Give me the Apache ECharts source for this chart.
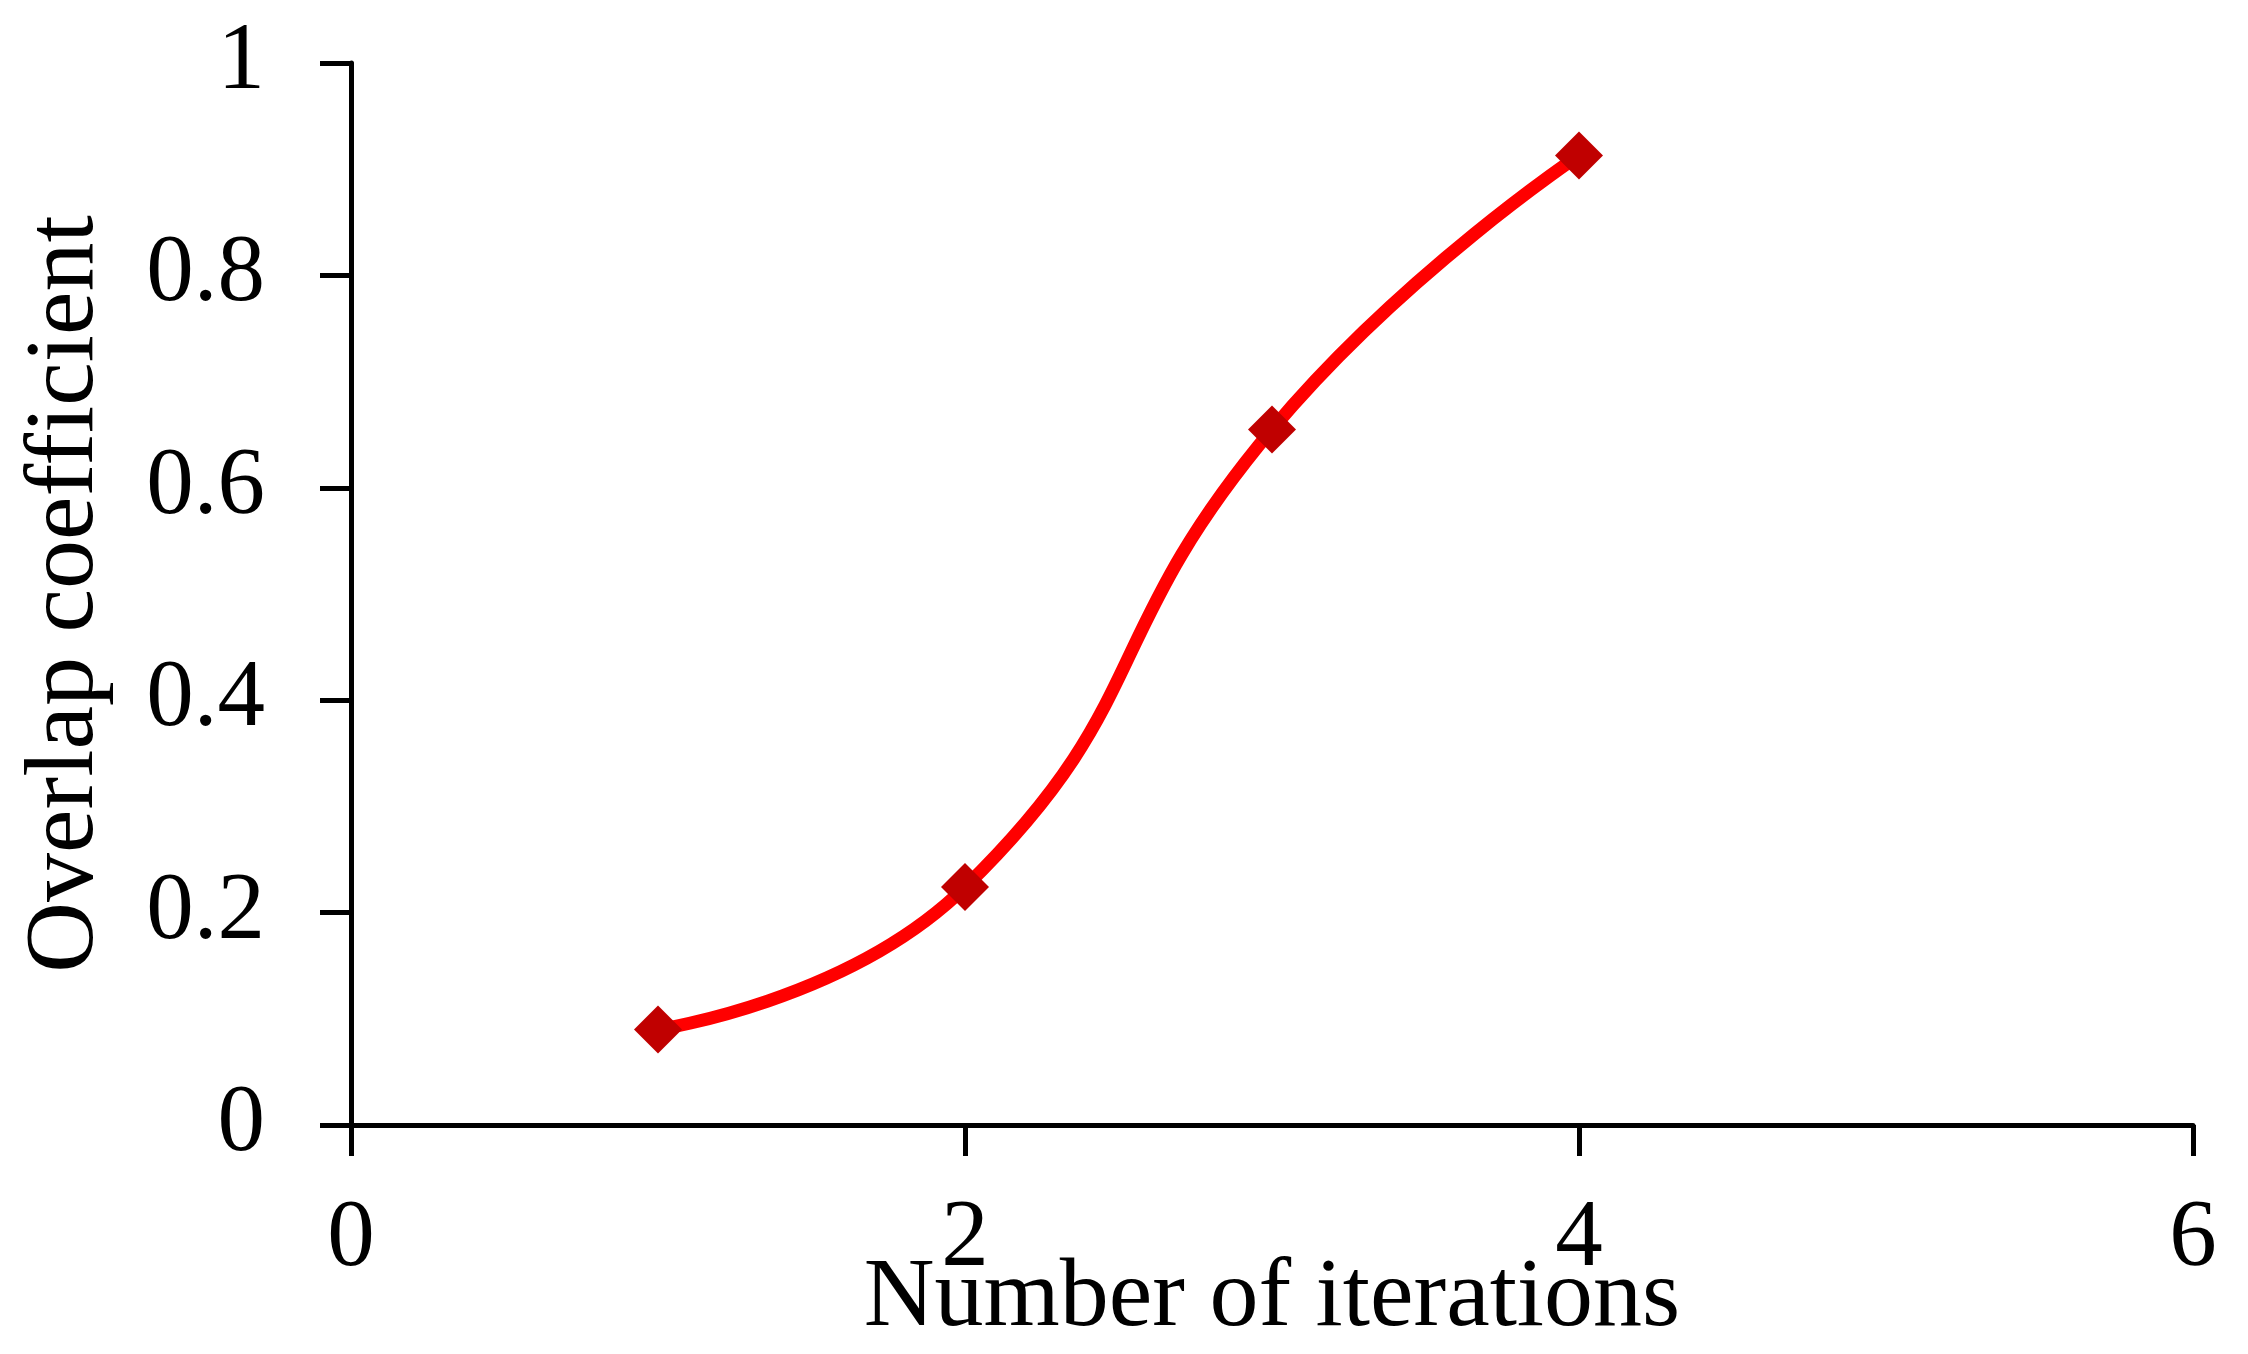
<!DOCTYPE html>
<html>
<head>
<meta charset="utf-8">
<script src="https://cdn.jsdelivr.net/npm/echarts@6/dist/echarts.min.js"></script>
<style>
html, body { margin: 0; padding: 0; background: #fff; }
#main { width: 2248px; height: 1354px; }
</style>
</head>
<body>
<div id="main"></div>
<script>
// 数据
var iterations = [1, 2, 3, 4];
var overlap = [0.09, 0.224, 0.655, 0.913];

var font = '"Liberation Serif", "Times New Roman", serif';

var myChart = echarts.init(document.getElementById('main'));
var option = {
	animation: false,
	grid: { left: 351, right: 55, top: 63, bottom: 229, outerBoundsMode: 'none' },
	xAxis: {
		type: 'value',
		min: 0, max: 6, interval: 2,
		name: 'Number of iterations',
		nameLocation: 'middle',
		nameGap: 125,
		nameMoveOverlap: false,
		nameTextStyle: { color: '#000', fontFamily: font, fontSize: 98 },
		axisLine: { show: true, lineStyle: { color: '#000', width: 5 } },
		axisTick: { show: true, inside: false, length: 31, lineStyle: { color: '#000', width: 5 } },
		axisLabel: { color: '#000', fontFamily: font, fontSize: 95, margin: 68 },
		splitLine: { show: false }
	},
	yAxis: {
		type: 'value',
		min: 0, max: 1, interval: 0.2,
		name: 'Overlap coefficient',
		nameLocation: 'middle',
		nameGap: 236,
		nameMoveOverlap: false,
		nameTextStyle: { color: '#000', fontFamily: font, fontSize: 98 },
		axisLine: { show: true, lineStyle: { color: '#000', width: 5 } },
		axisTick: { show: true, inside: false, length: 31, lineStyle: { color: '#000', width: 5 } },
		axisLabel: { color: '#000', fontFamily: font, fontSize: 95, margin: 86 },
		splitLine: { show: false }
	},
	series: [{
		type: 'line',
		data: iterations.map(function (x, i) { return [x, overlap[i]]; }),
		smooth: 0.5,
		symbol: 'diamond',
		symbolSize: 48,
		lineStyle: { color: '#ff0000', width: 13 },
		itemStyle: { color: '#c00000' }
	}]
};
myChart.setOption(option);
</script>
</body>
</html>
